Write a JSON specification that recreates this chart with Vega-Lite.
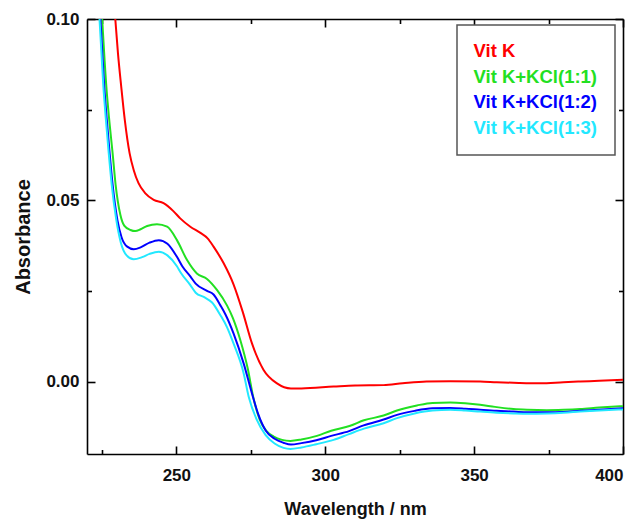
{
  "$schema": "https://vega.github.io/schema/vega-lite/v6.json",
  "width": 536,
  "height": 435,
  "autosize": {"type": "none"},
  "padding": {"left": 87, "top": 19, "right": 15, "bottom": 70},
  "config": {
    "view": {"stroke": null},
    "font": "Liberation Sans",
    "axis": {
      "grid": false,
      "domainColor": "#000000",
      "domainWidth": 1.6,
      "tickColor": "#000000",
      "tickWidth": 1.6,
      "labelFont": "Liberation Sans",
      "labelFontWeight": "bold",
      "labelFontSize": 17,
      "labelColor": "#111111",
      "titleFont": "Liberation Sans",
      "titleFontWeight": "bold",
      "titleFontSize": 18,
      "titleColor": "#111111"
    }
  },
  "data": {
    "values": [
      {"series": "Vit K", "wavelength": 229.5, "absorbance": 0.1},
      {"series": "Vit K", "wavelength": 230.4, "absorbance": 0.0905},
      {"series": "Vit K", "wavelength": 231.5, "absorbance": 0.0813},
      {"series": "Vit K", "wavelength": 232.7, "absorbance": 0.0721},
      {"series": "Vit K", "wavelength": 234.3, "absorbance": 0.063},
      {"series": "Vit K", "wavelength": 235.7, "absorbance": 0.0583},
      {"series": "Vit K", "wavelength": 237.3, "absorbance": 0.0547},
      {"series": "Vit K", "wavelength": 239.6, "absorbance": 0.0519},
      {"series": "Vit K", "wavelength": 242.4, "absorbance": 0.0501},
      {"series": "Vit K", "wavelength": 245.7, "absorbance": 0.0492},
      {"series": "Vit K", "wavelength": 249.0, "absorbance": 0.047},
      {"series": "Vit K", "wavelength": 251.3, "absorbance": 0.045},
      {"series": "Vit K", "wavelength": 254.7, "absorbance": 0.0427},
      {"series": "Vit K", "wavelength": 258.1, "absorbance": 0.041},
      {"series": "Vit K", "wavelength": 260.5, "absorbance": 0.0395},
      {"series": "Vit K", "wavelength": 262.5, "absorbance": 0.0372},
      {"series": "Vit K", "wavelength": 265.9, "absorbance": 0.0326},
      {"series": "Vit K", "wavelength": 269.2, "absorbance": 0.0268},
      {"series": "Vit K", "wavelength": 272.3, "absorbance": 0.0192},
      {"series": "Vit K", "wavelength": 275.4, "absorbance": 0.0105},
      {"series": "Vit K", "wavelength": 279.3, "absorbance": 0.0032},
      {"series": "Vit K", "wavelength": 283.8, "absorbance": -0.0005},
      {"series": "Vit K", "wavelength": 288.5, "absorbance": -0.0019},
      {"series": "Vit K", "wavelength": 292.0, "absorbance": -0.0019},
      {"series": "Vit K", "wavelength": 302.8, "absorbance": -0.0014},
      {"series": "Vit K", "wavelength": 310.0, "absorbance": -0.0011},
      {"series": "Vit K", "wavelength": 319.6, "absorbance": -0.001},
      {"series": "Vit K", "wavelength": 326.0, "absorbance": -0.0005},
      {"series": "Vit K", "wavelength": 334.0, "absorbance": 0.0},
      {"series": "Vit K", "wavelength": 342.0, "absorbance": 0.0001},
      {"series": "Vit K", "wavelength": 352.0, "absorbance": 0.0},
      {"series": "Vit K", "wavelength": 357.6, "absorbance": -0.0002},
      {"series": "Vit K", "wavelength": 365.0, "absorbance": -0.0004},
      {"series": "Vit K", "wavelength": 372.2, "absorbance": -0.0005},
      {"series": "Vit K", "wavelength": 380.0, "absorbance": -0.0002},
      {"series": "Vit K", "wavelength": 385.6, "absorbance": 0.0},
      {"series": "Vit K", "wavelength": 392.0, "absorbance": 0.0002},
      {"series": "Vit K", "wavelength": 400.0, "absorbance": 0.0005},

      {"series": "Vit K+KCl(1:1)", "wavelength": 225.1, "absorbance": 0.1},
      {"series": "Vit K+KCl(1:1)", "wavelength": 226.5, "absorbance": 0.0813},
      {"series": "Vit K+KCl(1:1)", "wavelength": 227.4, "absorbance": 0.0727},
      {"series": "Vit K+KCl(1:1)", "wavelength": 228.6, "absorbance": 0.063},
      {"series": "Vit K+KCl(1:1)", "wavelength": 229.6, "absorbance": 0.0543},
      {"series": "Vit K+KCl(1:1)", "wavelength": 231.2, "absorbance": 0.046},
      {"series": "Vit K+KCl(1:1)", "wavelength": 232.5, "absorbance": 0.043},
      {"series": "Vit K+KCl(1:1)", "wavelength": 234.6, "absorbance": 0.0418},
      {"series": "Vit K+KCl(1:1)", "wavelength": 236.2, "absorbance": 0.0415},
      {"series": "Vit K+KCl(1:1)", "wavelength": 238.0, "absorbance": 0.042},
      {"series": "Vit K+KCl(1:1)", "wavelength": 240.2, "absorbance": 0.0429},
      {"series": "Vit K+KCl(1:1)", "wavelength": 243.5, "absorbance": 0.0434},
      {"series": "Vit K+KCl(1:1)", "wavelength": 246.9, "absorbance": 0.0427},
      {"series": "Vit K+KCl(1:1)", "wavelength": 250.2, "absorbance": 0.039},
      {"series": "Vit K+KCl(1:1)", "wavelength": 253.6, "absorbance": 0.0335},
      {"series": "Vit K+KCl(1:1)", "wavelength": 256.9, "absorbance": 0.0298},
      {"series": "Vit K+KCl(1:1)", "wavelength": 260.3, "absorbance": 0.0283},
      {"series": "Vit K+KCl(1:1)", "wavelength": 263.7, "absorbance": 0.0252},
      {"series": "Vit K+KCl(1:1)", "wavelength": 267.0, "absorbance": 0.021},
      {"series": "Vit K+KCl(1:1)", "wavelength": 269.0, "absorbance": 0.0175},
      {"series": "Vit K+KCl(1:1)", "wavelength": 271.5, "absorbance": 0.0114},
      {"series": "Vit K+KCl(1:1)", "wavelength": 274.0, "absorbance": 0.0035},
      {"series": "Vit K+KCl(1:1)", "wavelength": 275.8, "absorbance": -0.0042},
      {"series": "Vit K+KCl(1:1)", "wavelength": 278.0, "absorbance": -0.0105},
      {"series": "Vit K+KCl(1:1)", "wavelength": 280.3, "absorbance": -0.0137},
      {"series": "Vit K+KCl(1:1)", "wavelength": 282.7, "absorbance": -0.0152},
      {"series": "Vit K+KCl(1:1)", "wavelength": 285.5, "absorbance": -0.0161},
      {"series": "Vit K+KCl(1:1)", "wavelength": 288.3, "absorbance": -0.0164},
      {"series": "Vit K+KCl(1:1)", "wavelength": 292.0, "absorbance": -0.016},
      {"series": "Vit K+KCl(1:1)", "wavelength": 297.2, "absorbance": -0.015},
      {"series": "Vit K+KCl(1:1)", "wavelength": 302.0, "absorbance": -0.0136},
      {"series": "Vit K+KCl(1:1)", "wavelength": 308.4, "absorbance": -0.0122},
      {"series": "Vit K+KCl(1:1)", "wavelength": 313.0, "absorbance": -0.0107},
      {"series": "Vit K+KCl(1:1)", "wavelength": 319.6, "absorbance": -0.0094},
      {"series": "Vit K+KCl(1:1)", "wavelength": 324.1, "absorbance": -0.008},
      {"series": "Vit K+KCl(1:1)", "wavelength": 330.8, "absorbance": -0.0066},
      {"series": "Vit K+KCl(1:1)", "wavelength": 336.0, "absorbance": -0.0059},
      {"series": "Vit K+KCl(1:1)", "wavelength": 342.0, "absorbance": -0.0058},
      {"series": "Vit K+KCl(1:1)", "wavelength": 347.0, "absorbance": -0.006},
      {"series": "Vit K+KCl(1:1)", "wavelength": 352.0, "absorbance": -0.0064},
      {"series": "Vit K+KCl(1:1)", "wavelength": 357.0, "absorbance": -0.007},
      {"series": "Vit K+KCl(1:1)", "wavelength": 363.2, "absorbance": -0.0076},
      {"series": "Vit K+KCl(1:1)", "wavelength": 368.0, "absorbance": -0.0078},
      {"series": "Vit K+KCl(1:1)", "wavelength": 374.4, "absorbance": -0.0079},
      {"series": "Vit K+KCl(1:1)", "wavelength": 380.0, "absorbance": -0.0078},
      {"series": "Vit K+KCl(1:1)", "wavelength": 385.6, "absorbance": -0.0076},
      {"series": "Vit K+KCl(1:1)", "wavelength": 392.0, "absorbance": -0.0072},
      {"series": "Vit K+KCl(1:1)", "wavelength": 400.0, "absorbance": -0.0068},

      {"series": "Vit K+KCl(1:2)", "wavelength": 224.5, "absorbance": 0.1},
      {"series": "Vit K+KCl(1:2)", "wavelength": 225.8, "absorbance": 0.0813},
      {"series": "Vit K+KCl(1:2)", "wavelength": 226.6, "absorbance": 0.0727},
      {"series": "Vit K+KCl(1:2)", "wavelength": 227.6, "absorbance": 0.063},
      {"series": "Vit K+KCl(1:2)", "wavelength": 228.6, "absorbance": 0.0543},
      {"series": "Vit K+KCl(1:2)", "wavelength": 230.2, "absorbance": 0.0446},
      {"series": "Vit K+KCl(1:2)", "wavelength": 231.6, "absorbance": 0.0398},
      {"series": "Vit K+KCl(1:2)", "wavelength": 233.5, "absorbance": 0.0372},
      {"series": "Vit K+KCl(1:2)", "wavelength": 235.7, "absorbance": 0.0365},
      {"series": "Vit K+KCl(1:2)", "wavelength": 238.0, "absorbance": 0.037},
      {"series": "Vit K+KCl(1:2)", "wavelength": 241.0, "absorbance": 0.0383},
      {"series": "Vit K+KCl(1:2)", "wavelength": 244.1, "absorbance": 0.039},
      {"series": "Vit K+KCl(1:2)", "wavelength": 247.0, "absorbance": 0.038},
      {"series": "Vit K+KCl(1:2)", "wavelength": 250.2, "absorbance": 0.0344},
      {"series": "Vit K+KCl(1:2)", "wavelength": 252.0, "absorbance": 0.0318},
      {"series": "Vit K+KCl(1:2)", "wavelength": 254.7, "absorbance": 0.029},
      {"series": "Vit K+KCl(1:2)", "wavelength": 256.5, "absorbance": 0.027},
      {"series": "Vit K+KCl(1:2)", "wavelength": 260.3, "absorbance": 0.025},
      {"series": "Vit K+KCl(1:2)", "wavelength": 262.5, "absorbance": 0.024},
      {"series": "Vit K+KCl(1:2)", "wavelength": 264.8, "absorbance": 0.021},
      {"series": "Vit K+KCl(1:2)", "wavelength": 266.5, "absorbance": 0.0185},
      {"series": "Vit K+KCl(1:2)", "wavelength": 269.2, "absorbance": 0.0133},
      {"series": "Vit K+KCl(1:2)", "wavelength": 272.6, "absorbance": 0.005},
      {"series": "Vit K+KCl(1:2)", "wavelength": 275.4, "absorbance": -0.0033},
      {"series": "Vit K+KCl(1:2)", "wavelength": 277.5, "absorbance": -0.009},
      {"series": "Vit K+KCl(1:2)", "wavelength": 280.0, "absorbance": -0.0135},
      {"series": "Vit K+KCl(1:2)", "wavelength": 283.0, "absorbance": -0.0158},
      {"series": "Vit K+KCl(1:2)", "wavelength": 286.0, "absorbance": -0.0169},
      {"series": "Vit K+KCl(1:2)", "wavelength": 288.5, "absorbance": -0.0174},
      {"series": "Vit K+KCl(1:2)", "wavelength": 292.0, "absorbance": -0.017},
      {"series": "Vit K+KCl(1:2)", "wavelength": 297.0, "absorbance": -0.0162},
      {"series": "Vit K+KCl(1:2)", "wavelength": 302.0, "absorbance": -0.015},
      {"series": "Vit K+KCl(1:2)", "wavelength": 308.0, "absorbance": -0.0137},
      {"series": "Vit K+KCl(1:2)", "wavelength": 312.9, "absorbance": -0.0121},
      {"series": "Vit K+KCl(1:2)", "wavelength": 319.6, "absorbance": -0.0105},
      {"series": "Vit K+KCl(1:2)", "wavelength": 324.1, "absorbance": -0.0092},
      {"series": "Vit K+KCl(1:2)", "wavelength": 330.0, "absorbance": -0.0081},
      {"series": "Vit K+KCl(1:2)", "wavelength": 336.0, "absorbance": -0.0074},
      {"series": "Vit K+KCl(1:2)", "wavelength": 342.0, "absorbance": -0.0073},
      {"series": "Vit K+KCl(1:2)", "wavelength": 347.0, "absorbance": -0.0075},
      {"series": "Vit K+KCl(1:2)", "wavelength": 352.0, "absorbance": -0.0078},
      {"series": "Vit K+KCl(1:2)", "wavelength": 357.5, "absorbance": -0.0081},
      {"series": "Vit K+KCl(1:2)", "wavelength": 363.2, "absorbance": -0.0083},
      {"series": "Vit K+KCl(1:2)", "wavelength": 368.0, "absorbance": -0.0085},
      {"series": "Vit K+KCl(1:2)", "wavelength": 374.4, "absorbance": -0.0085},
      {"series": "Vit K+KCl(1:2)", "wavelength": 380.0, "absorbance": -0.0084},
      {"series": "Vit K+KCl(1:2)", "wavelength": 385.6, "absorbance": -0.0081},
      {"series": "Vit K+KCl(1:2)", "wavelength": 392.0, "absorbance": -0.0078},
      {"series": "Vit K+KCl(1:2)", "wavelength": 400.0, "absorbance": -0.0074},

      {"series": "Vit K+KCl(1:3)", "wavelength": 224.2, "absorbance": 0.1},
      {"series": "Vit K+KCl(1:3)", "wavelength": 225.5, "absorbance": 0.0813},
      {"series": "Vit K+KCl(1:3)", "wavelength": 226.3, "absorbance": 0.0727},
      {"series": "Vit K+KCl(1:3)", "wavelength": 227.3, "absorbance": 0.063},
      {"series": "Vit K+KCl(1:3)", "wavelength": 228.3, "absorbance": 0.0543},
      {"series": "Vit K+KCl(1:3)", "wavelength": 229.8, "absorbance": 0.0448},
      {"series": "Vit K+KCl(1:3)", "wavelength": 231.3, "absorbance": 0.0385},
      {"series": "Vit K+KCl(1:3)", "wavelength": 233.3, "absorbance": 0.0348},
      {"series": "Vit K+KCl(1:3)", "wavelength": 235.7, "absorbance": 0.0337},
      {"series": "Vit K+KCl(1:3)", "wavelength": 238.5, "absorbance": 0.0343},
      {"series": "Vit K+KCl(1:3)", "wavelength": 241.0, "absorbance": 0.0352},
      {"series": "Vit K+KCl(1:3)", "wavelength": 244.1, "absorbance": 0.0358},
      {"series": "Vit K+KCl(1:3)", "wavelength": 247.0, "absorbance": 0.0348},
      {"series": "Vit K+KCl(1:3)", "wavelength": 250.2, "absorbance": 0.0318},
      {"series": "Vit K+KCl(1:3)", "wavelength": 251.5, "absorbance": 0.03},
      {"series": "Vit K+KCl(1:3)", "wavelength": 254.7, "absorbance": 0.0266},
      {"series": "Vit K+KCl(1:3)", "wavelength": 256.5, "absorbance": 0.0245},
      {"series": "Vit K+KCl(1:3)", "wavelength": 259.5, "absorbance": 0.0232},
      {"series": "Vit K+KCl(1:3)", "wavelength": 262.0, "absorbance": 0.0218},
      {"series": "Vit K+KCl(1:3)", "wavelength": 264.8, "absorbance": 0.0183},
      {"series": "Vit K+KCl(1:3)", "wavelength": 267.0, "absorbance": 0.015},
      {"series": "Vit K+KCl(1:3)", "wavelength": 269.2, "absorbance": 0.0105},
      {"series": "Vit K+KCl(1:3)", "wavelength": 272.6, "absorbance": 0.0023},
      {"series": "Vit K+KCl(1:3)", "wavelength": 274.3, "absorbance": -0.0042},
      {"series": "Vit K+KCl(1:3)", "wavelength": 277.0, "absorbance": -0.0105},
      {"series": "Vit K+KCl(1:3)", "wavelength": 280.0, "absorbance": -0.0148},
      {"series": "Vit K+KCl(1:3)", "wavelength": 283.0, "absorbance": -0.0171},
      {"series": "Vit K+KCl(1:3)", "wavelength": 286.0, "absorbance": -0.0183},
      {"series": "Vit K+KCl(1:3)", "wavelength": 288.3, "absorbance": -0.0186},
      {"series": "Vit K+KCl(1:3)", "wavelength": 292.0, "absorbance": -0.0182},
      {"series": "Vit K+KCl(1:3)", "wavelength": 297.0, "absorbance": -0.0173},
      {"series": "Vit K+KCl(1:3)", "wavelength": 302.8, "absorbance": -0.0161},
      {"series": "Vit K+KCl(1:3)", "wavelength": 308.0, "absorbance": -0.0145},
      {"series": "Vit K+KCl(1:3)", "wavelength": 313.0, "absorbance": -0.013},
      {"series": "Vit K+KCl(1:3)", "wavelength": 319.6, "absorbance": -0.0115},
      {"series": "Vit K+KCl(1:3)", "wavelength": 324.1, "absorbance": -0.0101},
      {"series": "Vit K+KCl(1:3)", "wavelength": 330.0, "absorbance": -0.0088},
      {"series": "Vit K+KCl(1:3)", "wavelength": 336.0, "absorbance": -0.008},
      {"series": "Vit K+KCl(1:3)", "wavelength": 342.0, "absorbance": -0.0078},
      {"series": "Vit K+KCl(1:3)", "wavelength": 347.0, "absorbance": -0.008},
      {"series": "Vit K+KCl(1:3)", "wavelength": 352.0, "absorbance": -0.0083},
      {"series": "Vit K+KCl(1:3)", "wavelength": 357.5, "absorbance": -0.0086},
      {"series": "Vit K+KCl(1:3)", "wavelength": 363.2, "absorbance": -0.0088},
      {"series": "Vit K+KCl(1:3)", "wavelength": 368.0, "absorbance": -0.0089},
      {"series": "Vit K+KCl(1:3)", "wavelength": 374.4, "absorbance": -0.0088},
      {"series": "Vit K+KCl(1:3)", "wavelength": 380.0, "absorbance": -0.0086},
      {"series": "Vit K+KCl(1:3)", "wavelength": 385.6, "absorbance": -0.0083},
      {"series": "Vit K+KCl(1:3)", "wavelength": 392.0, "absorbance": -0.008},
      {"series": "Vit K+KCl(1:3)", "wavelength": 400.0, "absorbance": -0.0077}
    ]
  },
  "layer": [
    {
      "mark": {"type": "line", "strokeWidth": 2, "clip": true, "interpolate": "monotone"},
      "encoding": {
        "x": {
          "field": "wavelength", "type": "quantitative",
          "scale": {"domain": [220, 400], "nice": false, "zero": false},
          "axis": {"orient": "bottom", "values": [250, 300, 350, 400], "format": "d", "title": "Wavelength / nm", "tickSize": -8, "labelPadding": 21, "titlePadding": 17}
        },
        "y": {
          "field": "absorbance", "type": "quantitative",
          "scale": {"domain": [-0.02, 0.1], "nice": false, "zero": false},
          "axis": {"orient": "left", "values": [0, 0.05, 0.1], "format": ".2f", "title": "Absorbance", "titleFontSize": 20, "tickSize": -8, "labelPadding": 16, "titlePadding": 12}
        },
        "color": {
          "field": "series", "type": "nominal",
          "scale": {
            "domain": ["Vit K", "Vit K+KCl(1:1)", "Vit K+KCl(1:2)", "Vit K+KCl(1:3)"],
            "range": ["#ff0000", "#22e022", "#0000ff", "#22e8ff"]
          },
          "legend": {
            "orient": "none", "legendX": 370, "legendY": 6,
            "title": null,
            "labelFont": "Liberation Sans", "labelFontWeight": "bold", "labelFontSize": 18.5,
            "symbolSize": 0, "symbolOpacity": 0, "symbolStrokeWidth": 0, "labelOffset": -19,
            "rowPadding": 6.5, "padding": 17,
            "strokeColor": "#555555", "fillColor": "#ffffff",
            "encode": {
              "labels": {"update": {"fill": {"scale": "color", "field": "value"}}},
              "legend": {"update": {"strokeWidth": {"value": 1.5}}}
            }
          }
        }
      }
    },
    {
      "mark": {"type": "line", "opacity": 0},
      "encoding": {
        "x": {"field": "wavelength", "type": "quantitative", "axis": {"orient": "top", "values": [250, 300, 350, 400], "labels": false, "title": null, "tickSize": -8}},
        "y": {"field": "absorbance", "type": "quantitative", "axis": {"orient": "right", "values": [0, 0.05, 0.1], "labels": false, "title": null, "tickSize": -8}},
        "detail": {"field": "series", "type": "nominal"}
      }
    },
    {
      "mark": {"type": "line", "opacity": 0},
      "encoding": {
        "x": {"field": "wavelength", "type": "quantitative", "axis": {"orient": "bottom", "values": [225, 275, 325, 375], "labels": false, "title": null, "domain": false, "tickSize": -4.5}},
        "y": {"field": "absorbance", "type": "quantitative", "axis": {"orient": "left", "values": [0.025, 0.075], "labels": false, "title": null, "domain": false, "tickSize": -4.5}},
        "detail": {"field": "series", "type": "nominal"}
      }
    },
    {
      "mark": {"type": "line", "opacity": 0},
      "encoding": {
        "x": {"field": "wavelength", "type": "quantitative", "axis": {"orient": "top", "values": [225, 275, 325, 375], "labels": false, "title": null, "domain": false, "tickSize": -4.5}},
        "y": {"field": "absorbance", "type": "quantitative", "axis": {"orient": "right", "values": [0.025, 0.075], "labels": false, "title": null, "domain": false, "tickSize": -4.5}},
        "detail": {"field": "series", "type": "nominal"}
      }
    }
  ],
  "resolve": {"axis": {"x": "independent", "y": "independent"}}
}
